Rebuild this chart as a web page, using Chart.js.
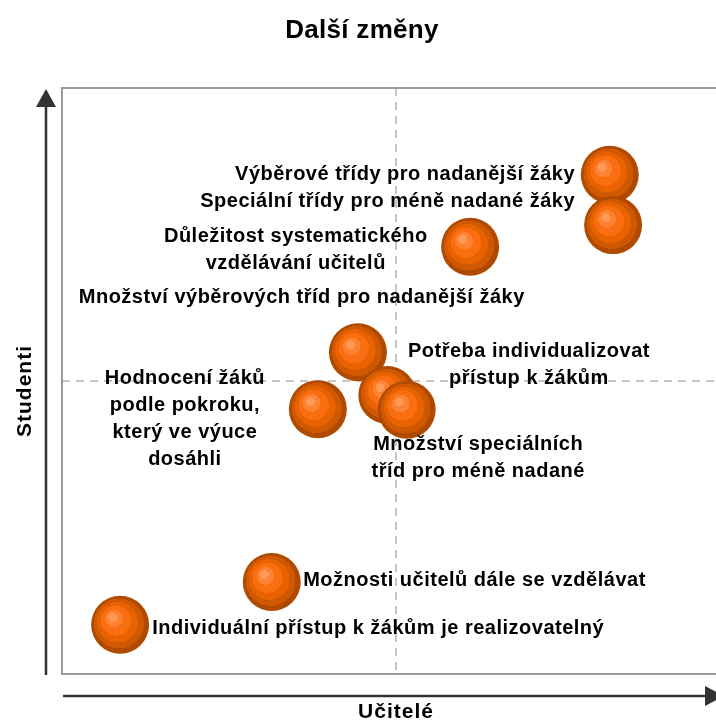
<!DOCTYPE html>
<html><head><meta charset="utf-8">
<script src="https://cdn.jsdelivr.net/npm/chart.js@4/dist/chart.umd.min.js"></script>
<style>html,body{margin:0;padding:0;overflow:hidden;background:#fff}canvas{display:block}</style>
</head><body>
<canvas id="c" width="730" height="722"></canvas>
<script>
const chartTitle = 'Další změny';
const xAxisTitle = 'Učitelé';
const yAxisTitle = 'Studenti';
const categories = [
  'Výběrové třídy pro nadanější žáky',
  'Speciální třídy pro méně nadané žáky',
  'Důležitost systematického\nvzdělávání učitelů',
  'Množství výběrových tříd pro nadanější žáky',
  'Potřeba individualizovat\npřístup k žákům',
  'Množství speciálních\ntříd pro méně nadané',
  'Hodnocení žáků\npodle pokroku,\nkterý ve výuce\ndosáhli',
  'Možnosti učitelů dále se vzdělávat',
  'Individuální přístup k žákům je realizovatelný'
];
const teachersValues = [8.20, 8.25, 6.11, 4.43, 4.87, 5.16, 3.83, 3.14, 0.87];
const studentsValues = [8.52, 7.66, 7.29, 5.49, 4.76, 4.51, 4.52, 1.57, 0.84];
const axisMin = 0, axisMax = 10, axisMid = 5;

// label anchors (in axis units) and alignment
const labelX = [7.68, 7.68, 3.50, 3.59, 6.99, 6.23, 1.84, 3.61, 1.35];
const labelY = [8.52, 8.07, 7.46, 6.42, 5.51, 3.91, 5.05, 1.60, 0.785];
const labelAlign = ['right','right','center','center','center','center','center','left','left'];

const bubbleRadius = 29;
const labelFont = 'bold 20px "Liberation Sans", Arial, sans-serif';
const lineHeight = 27;

function bubbleFill(ctx) {
  const c = ctx.chart;
  if (!c.scales || !c.scales.x || !ctx.parsed) return '#E86000';
  const cx = c.scales.x.getPixelForValue(ctx.parsed.x);
  const cy = c.scales.y.getPixelForValue(ctx.parsed.y);
  if (!isFinite(cx) || !isFinite(cy)) return '#E86000';
  const r = bubbleRadius;
  const g = c.ctx.createRadialGradient(cx - 0.3 * r, cy - 0.3 * r, 0, cx, cy, r);
  const stops = [
    [0, '#FF9A58'], [0.15, '#FF9A58'],
    [0.15, '#FF8232'], [0.30, '#FF8232'],
    [0.30, '#FA6E12'], [0.52, '#FA6E12'],
    [0.52, '#E86200'], [0.70, '#E86200'],
    [0.70, '#D05800'], [0.86, '#D05800'],
    [0.86, '#B04A00'], [1, '#B04A00']
  ];
  stops.forEach(s => g.addColorStop(s[0], s[1]));
  return g;
}

const decor = {
  id: 'decor',
  beforeDatasetsDraw(chart) {
    const { ctx, chartArea: a, scales: { x, y } } = chart;
    ctx.save();
    const mx = x.getPixelForValue(axisMid), my = y.getPixelForValue(axisMid);
    ctx.strokeStyle = '#b4b4b4'; ctx.lineWidth = 1.5; ctx.setLineDash([8, 6]);
    ctx.beginPath(); ctx.moveTo(mx, a.top); ctx.lineTo(mx, a.bottom); ctx.stroke();
    ctx.beginPath(); ctx.moveTo(a.left, my); ctx.lineTo(a.right, my); ctx.stroke();
    ctx.setLineDash([]);
    ctx.strokeStyle = '#999'; ctx.lineWidth = 2;
    ctx.strokeRect(a.left, a.top, a.right - a.left, a.bottom - a.top);
    // axis arrows
    ctx.strokeStyle = '#333'; ctx.fillStyle = '#333'; ctx.lineWidth = 2.5;
    const ax = a.left - 16;
    ctx.beginPath(); ctx.moveTo(ax, a.bottom + 1); ctx.lineTo(ax, a.top + 18); ctx.stroke();
    ctx.beginPath(); ctx.moveTo(ax, a.top + 1); ctx.lineTo(ax - 10, a.top + 19); ctx.lineTo(ax + 10, a.top + 19); ctx.closePath(); ctx.fill();
    const ay = a.bottom + 22;
    ctx.beginPath(); ctx.moveTo(a.left + 1, ay); ctx.lineTo(a.right - 24, ay); ctx.stroke();
    ctx.beginPath(); ctx.moveTo(a.right - 6, ay); ctx.lineTo(a.right - 25, ay - 10); ctx.lineTo(a.right - 25, ay + 10); ctx.closePath(); ctx.fill();
    ctx.restore();
  },
  afterDatasetsDraw(chart) {
    const { ctx, chartArea: a, scales: { x, y } } = chart;
    ctx.save();
    ctx.fillStyle = '#000';
    ctx.textBaseline = 'middle';
    try { ctx.letterSpacing = '0.5px'; } catch (e) {}
    ctx.font = labelFont;
    categories.forEach((txt, i) => {
      const px = x.getPixelForValue(labelX[i]);
      const py = y.getPixelForValue(labelY[i]);
      ctx.textAlign = labelAlign[i];
      txt.split('\n').forEach((line, k) => ctx.fillText(line, px, py + k * lineHeight));
    });
    // title
    ctx.textAlign = 'center';
    ctx.font = 'bold 26px "Liberation Sans", Arial, sans-serif';
    try { ctx.letterSpacing = '0.3px'; } catch (e) {}
    ctx.fillText(chartTitle, 362, 31);
    // axis titles
    ctx.font = 'bold 21px "Liberation Sans", Arial, sans-serif';
    try { ctx.letterSpacing = '1px'; } catch (e) {}
    ctx.fillText(xAxisTitle, x.getPixelForValue(axisMid), 712);
    ctx.translate(25, y.getPixelForValue(axisMid) + 10);
    ctx.rotate(-Math.PI / 2);
    ctx.fillText(yAxisTitle, 0, 0);
    ctx.restore();
  }
};

new Chart(document.getElementById('c'), {
  type: 'bubble',
  data: {
    datasets: [{
      data: teachersValues.map((v, i) => ({ x: v, y: studentsValues[i] })),
      radius: bubbleRadius,
      backgroundColor: bubbleFill,
      borderWidth: 0,
      hoverRadius: 0,
      clip: false
    }]
  },
  options: {
    responsive: false,
    animation: false,
    events: [],
    layout: { autoPadding: false, padding: { left: 62, top: 88, right: 0, bottom: 48 } },
    scales: {
      x: { type: 'linear', min: axisMin, max: axisMax, display: false },
      y: { type: 'linear', min: axisMin, max: axisMax, display: false }
    },
    plugins: { legend: { display: false }, tooltip: { enabled: false }, title: { display: false } }
  },
  plugins: [decor]
});
</script>
</body></html>
